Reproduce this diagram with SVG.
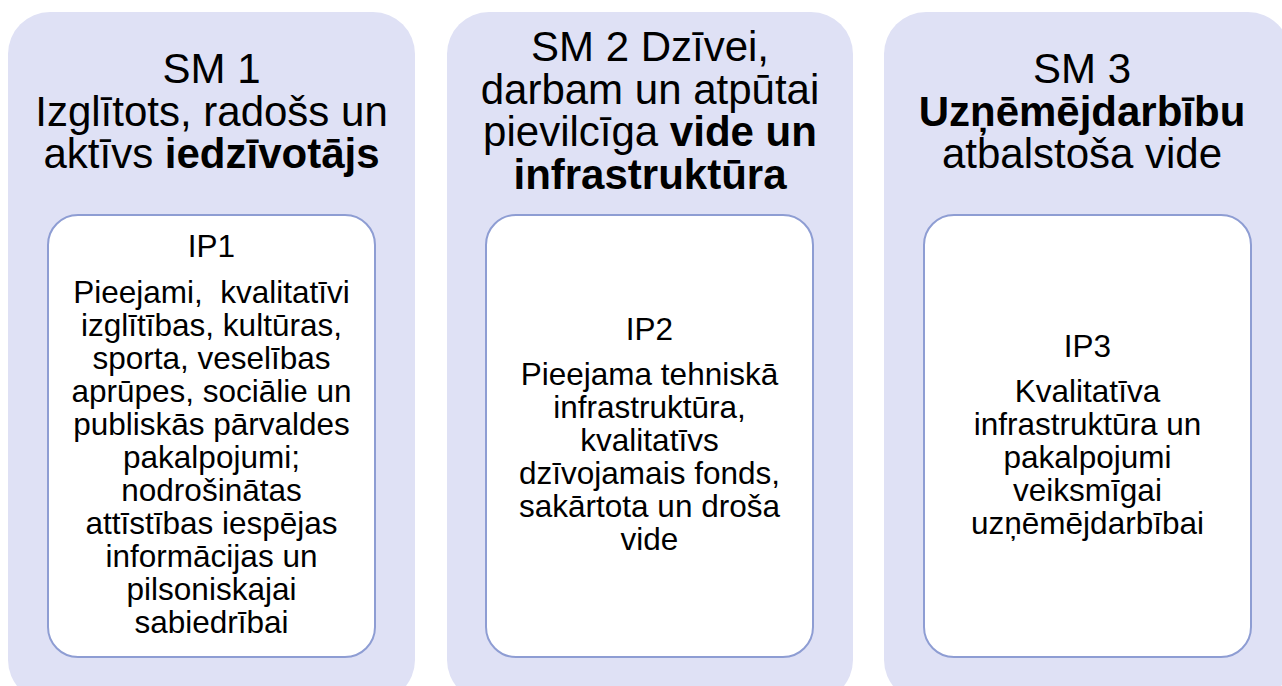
<svg xmlns="http://www.w3.org/2000/svg" width="1282" height="686" viewBox="0 0 1282 686">
<style>
.outer{fill:#dfe1f5;stroke:none}
.inner{fill:#ffffff;stroke:#8e9dd3;stroke-width:2}
.h{font-family:"Liberation Sans",Arial,sans-serif;font-size:42px;fill:#000;text-anchor:middle}
.b{font-family:"Liberation Sans",Arial,sans-serif;font-size:31.5px;fill:#000;text-anchor:middle}
.bold{font-weight:bold}
</style>
<rect width="1282" height="686" fill="#ffffff"/>
<g id="sm1">
<rect class="outer" x="8" y="12" width="407" height="690" rx="42" ry="42"/>
<text class="h" x="211.5" y="83">SM 1</text>
<text class="h" x="211.5" y="125.5">Izglītots, radošs un</text>
<text class="h" x="211.5" y="168">aktīvs <tspan class="bold">iedzīvotājs</tspan></text>
</g>
<g id="sm2">
<rect class="outer" x="447" y="12" width="406" height="690" rx="42" ry="42"/>
<text class="h" x="650" y="61">SM 2 Dzīvei,</text>
<text class="h" x="650" y="103.5">darbam un atpūtai</text>
<text class="h" x="650" y="146">pievilcīga <tspan class="bold">vide un</tspan></text>
<text class="h" x="650" y="188.5" font-weight="bold">infrastruktūra</text>
</g>
<g id="sm3">
<rect class="outer" x="884" y="12" width="406" height="690" rx="42" ry="42"/>
<text class="h" x="1082" y="83">SM 3</text>
<text class="h bold" x="1082" y="125.5">Uzņēmējdarbību</text>
<text class="h" x="1082" y="168">atbalstoša vide</text>
</g>
<g id="ip1">
<rect class="inner" x="48" y="215" width="327" height="442" rx="30" ry="30"/>
<text class="b" x="211.5" y="257">IP1</text>
<text class="b" x="211.5" y="303" xml:space="preserve">Pieejami,  kvalitatīvi</text>
<text class="b" x="211.5" y="336">izglītības, kultūras,</text>
<text class="b" x="211.5" y="369">sporta, veselības</text>
<text class="b" x="211.5" y="402">aprūpes, sociālie un</text>
<text class="b" x="211.5" y="435">publiskās pārvaldes</text>
<text class="b" x="211.5" y="468">pakalpojumi;</text>
<text class="b" x="211.5" y="501">nodrošinātas</text>
<text class="b" x="211.5" y="534">attīstības iespējas</text>
<text class="b" x="211.5" y="567">informācijas un</text>
<text class="b" x="211.5" y="600">pilsoniskajai</text>
<text class="b" x="211.5" y="633">sabiedrībai</text>
</g>
<g id="ip2">
<rect class="inner" x="486" y="215" width="327" height="442" rx="30" ry="30"/>
<text class="b" x="649.5" y="340">IP2</text>
<text class="b" x="649.5" y="385">Pieejama tehniskā</text>
<text class="b" x="649.5" y="418">infrastruktūra,</text>
<text class="b" x="649.5" y="451">kvalitatīvs</text>
<text class="b" x="649.5" y="484">dzīvojamais fonds,</text>
<text class="b" x="649.5" y="517">sakārtota un droša</text>
<text class="b" x="649.5" y="550">vide</text>
</g>
<g id="ip3">
<rect class="inner" x="924" y="215" width="327" height="442" rx="30" ry="30"/>
<text class="b" x="1087.5" y="357">IP3</text>
<text class="b" x="1087.5" y="402">Kvalitatīva</text>
<text class="b" x="1087.5" y="435">infrastruktūra un</text>
<text class="b" x="1087.5" y="468">pakalpojumi</text>
<text class="b" x="1087.5" y="501">veiksmīgai</text>
<text class="b" x="1087.5" y="534">uzņēmējdarbībai</text>
</g>
<g id="connectors"></g>
</svg>
